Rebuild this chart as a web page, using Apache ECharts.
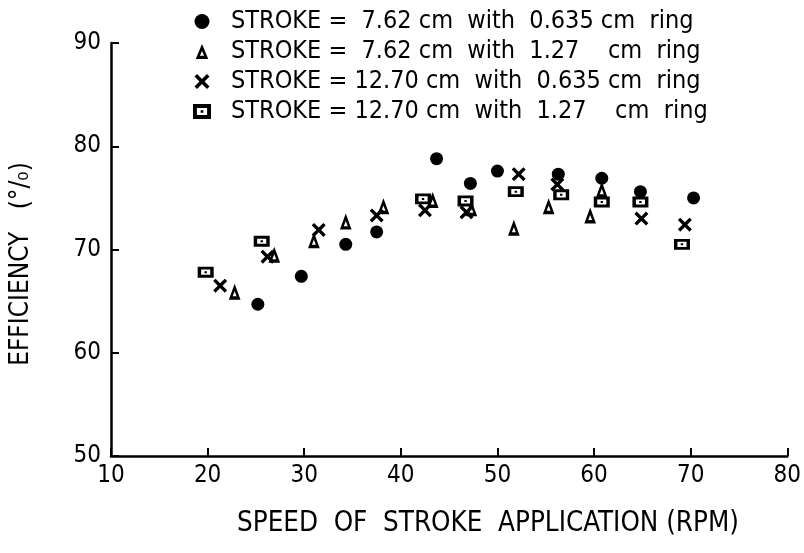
<!DOCTYPE html>
<html>
<head>
<meta charset="utf-8">
<script src="https://cdn.jsdelivr.net/npm/echarts@6/dist/echarts.min.js"></script>
<style>
  html, body { margin: 0; padding: 0; background: #fff; }
  #chart { width: 804px; height: 553px; }
</style>
</head>
<body>
<div id="chart"></div>
<script>
// Efficiency vs. speed of stroke application, four stroke / ring combinations
var seriesNames = [
  'STROKE =  7.62 cm  with  0.635 cm  ring',
  'STROKE =  7.62 cm  with  1.27    cm  ring',
  'STROKE = 12.70 cm  with  0.635 cm  ring',
  'STROKE = 12.70 cm  with  1.27    cm  ring'
];

// stroke 7.62 cm, 0.635 cm ring  [rpm, efficiency %]
var s1Speed = [25.2, 29.7, 34.3, 37.5, 43.7, 47.2, 50.0, 56.3, 60.8, 64.8, 70.3];
var s1Eff   = [64.7, 67.4, 70.5, 71.7, 78.8, 76.4, 77.6, 77.3, 76.9, 75.6, 75.0];

// stroke 7.62 cm, 1.27 cm ring
var s2Speed = [22.8, 26.9, 31.0, 34.3, 38.2, 43.3, 47.3, 51.7, 55.3, 59.6, 60.8];
var s2Eff   = [65.9, 69.5, 70.9, 72.7, 74.2, 74.8, 74.0, 72.1, 74.2, 73.3, 75.8];

// stroke 12.70 cm, 0.635 cm ring
var s3Speed = [21.3, 26.2, 31.5, 37.5, 42.5, 46.8, 52.2, 56.2, 64.9, 69.4];
var s3Eff   = [66.5, 69.3, 71.9, 73.3, 73.8, 73.6, 77.3, 76.3, 73.0, 72.4];

// stroke 12.70 cm, 1.27 cm ring
var s4Speed = [19.8, 25.6, 42.3, 46.7, 51.9, 56.6, 60.8, 64.8, 69.1];
var s4Eff   = [67.8, 70.8, 74.9, 74.7, 75.6, 75.3, 74.6, 74.6, 70.5];

var xTicks = [10, 20, 30, 40, 50, 60, 70, 80];
var yTicks = [50, 60, 70, 80, 90];

function pairs(xs, ys) {
  return xs.map(function (x, i) { return [x, ys[i]]; });
}

// Marker outlines drawn as filled rings
var triPath = 'path://M5 0 L10 12 L0 12 Z M5 5.6 L3.3 9.4 L6.7 9.4 Z';
var crossPath = 'path://M0 1.7 L1.7 0 L5 3.3 L8.3 0 L10 1.7 L6.7 5 L10 8.3 L8.3 10 L5 6.7 L1.7 10 L0 8.3 L3.3 5 Z';
var boxPath = 'path://M0 0 L12 0 L12 10 L0 10 Z M2.6 2.6 L2.6 7.4 L9.4 7.4 L9.4 2.6 Z M5.1 4.1 L6.9 4.1 L6.9 5.9 L5.1 5.9 Z';

var font = '"DejaVu Sans Condensed", "Liberation Sans Narrow", "DejaVu Sans", sans-serif';

var chart = echarts.init(document.getElementById('chart'), null, { renderer: 'canvas' });

function mk(name, data, symbol, size) {
  return {
    name: name,
    type: 'scatter',
    data: data,
    symbol: symbol,
    symbolSize: size,
    symbolKeepAspect: true,
    itemStyle: { color: '#000', opacity: 1 },
    emphasis: { disabled: true },
    animation: false
  };
}

chart.setOption({
  backgroundColor: '#fff',
  animation: false,
  grid: { left: 111, right: 13, top: 43, bottom: 97, containLabel: false },
  legend: {
    orient: 'vertical',
    left: 188,
    top: 4,
    itemWidth: 48,
    itemHeight: 15,
    itemGap: 5,
    symbolKeepAspect: true,
    selectedMode: false,
    itemStyle: { opacity: 1 },
    textStyle: { fontFamily: font, fontSize: 25, color: '#000', lineHeight: 23 },
    data: seriesNames
  },
  xAxis: {
    type: 'value',
    min: xTicks[0],
    max: xTicks[xTicks.length - 1],
    interval: 10,
    axisLine: { show: true, lineStyle: { color: '#000', width: 2.5 } },
    axisTick: { show: true, inside: true, length: 8, lineStyle: { color: '#000', width: 2 } },
    axisLabel: { color: '#000', fontFamily: font, fontSize: 24, margin: 8 },
    splitLine: { show: false }
  },
  yAxis: {
    type: 'value',
    min: yTicks[0],
    max: yTicks[yTicks.length - 1],
    interval: 10,
    axisLine: { show: true, lineStyle: { color: '#000', width: 2.5 } },
    axisTick: { show: true, inside: true, length: 8, lineStyle: { color: '#000', width: 2 } },
    axisLabel: { color: '#000', fontFamily: font, fontSize: 24, margin: 10 },
    splitLine: { show: false }
  },
  graphic: [
    {
      type: 'text',
      x: 237,
      y: 510,
      style: {
        text: 'SPEED  OF  STROKE  APPLICATION (RPM)',
        fontFamily: font,
        fontSize: 27.5,
        fill: '#000'
      }
    },
    {
      type: 'text',
      x: 21,
      y: 264,
      rotation: Math.PI / 2,
      style: {
        text: 'EFFICIENCY   (°/₀)',
        fontFamily: font,
        fontSize: 26,
        fill: '#000',
        align: 'center',
        verticalAlign: 'middle'
      }
    }
  ],
  series: [
    mk(seriesNames[0], pairs(s1Speed, s1Eff), 'circle', 13),
    mk(seriesNames[1], pairs(s2Speed, s2Eff), triPath, [14, 16]),
    mk(seriesNames[2], pairs(s3Speed, s3Eff), crossPath, 14),
    mk(seriesNames[3], pairs(s4Speed, s4Eff), boxPath, [16, 13])
  ]
});
</script>
</body>
</html>
